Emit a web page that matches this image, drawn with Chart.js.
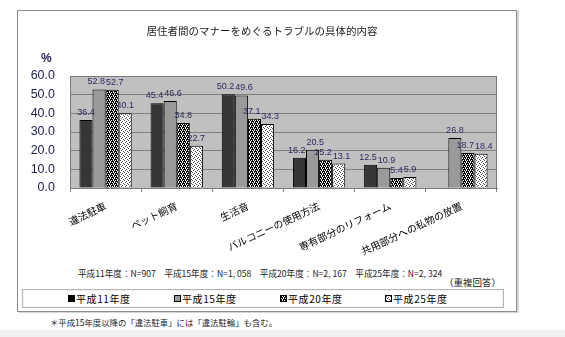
<!DOCTYPE html>
<html lang="ja">
<head>
<meta charset="utf-8">
<script src="https://cdn.jsdelivr.net/npm/chart.js@4"></script>
<style>
  html, body { margin: 0; padding: 0; }
  body {
    width: 565px; height: 337px; position: relative; overflow: hidden; background: #fff;
    font-family: "Noto Sans CJK JP", "Liberation Sans", sans-serif; color: #000;
  }
  #frame { position: absolute; left: 17px; top: 10px; width: 498px; height: 300px;
           border: 1px solid #8c8c8c; box-shadow: 2px 1px 0 #d6d6d6; }
  #chart { position: absolute; left: 0; top: 0; }
  .txt { position: absolute; white-space: pre; line-height: 1; }
  #title { left: 0; width: 524px; top: 26px; text-align: center; font-size: 10.5px; color: #222; }
  #pct { left: 41px; top: 52px; font-size: 12px; font-weight: bold; color: #1e1e50;
         font-family: "Liberation Sans", sans-serif; }
  #nline { left: 78px; top: 269px; font-size: 8.6px; color: #222; }
  #multi { left: 444px; top: 278px; font-size: 9.5px; color: #222; }
  #legend { position: absolute; left: 22px; top: 289px; width: 480px; height: 17px;
            border: 1px solid #b4b4b4; box-shadow: inset 0 0 0 1px #f4f4f4; }
  .item { position: absolute; top: 3px; font-size: 10px; letter-spacing: 0.6px; line-height: 11px; }
  .icon { display: inline-block; width: 5px; height: 5px; border: 1px solid #000;
          margin-right: 1px; vertical-align: 1px; }
  #note { left: 50px; top: 318px; font-size: 8.4px; color: #222; }
  #band { position: absolute; left: 0; top: 330px; width: 565px; height: 7px; background: #f1f1f1; }
</style>
</head>
<body>
<div id="frame"></div>
<canvas id="chart" width="565" height="262"></canvas>
<div class="txt" id="title">居住者間のマナーをめぐるトラブルの具体的内容</div>
<div class="txt" id="pct">%</div>
<div class="txt" id="nline">平成11年度：N=907　平成15年度：N=1, 058　平成20年度：N=2, 167　平成25年度：N=2, 324</div>
<div class="txt" id="multi">（重複回答）</div>
<div id="legend"></div>
<div class="txt" id="note">＊平成15年度以降の「違法駐車」には「違法駐輪」も含む。</div>
<div id="band"></div>

<script>
// カテゴリと年度ごとの割合（%）
const categories = ["違法駐車", "ペット飼育", "生活音", "バルコニーの使用方法", "専有部分のリフォーム", "共用部分への私物の放置"];
const seriesNames = ["平成11年度", "平成15年度", "平成20年度", "平成25年度"];
const h11 = [36.4, 45.4, 50.2, 16.2, 12.5, null];
const h15 = [52.8, 46.6, 49.6, 20.5, 10.9, 26.8];
const h20 = [52.7, 34.8, 37.1, 15.2, 5.4, 18.7];
const h25 = [40.1, 22.7, 34.3, 13.1, 5.9, 18.4];
const yTicks = [0, 10, 20, 30, 40, 50, 60];

// 4x4 の網掛けパターン（x = 前景）
function makePattern(rows, fg, bg) {
  const c = document.createElement("canvas");
  c.width = 4; c.height = 4;
  const g = c.getContext("2d");
  g.fillStyle = bg; g.fillRect(0, 0, 4, 4);
  g.fillStyle = fg;
  rows.forEach((r, y) => [...r].forEach((ch, x) => { if (ch === "x") g.fillRect(x, y, 1, 1); }));
  return c;
}
const darkHatch = makePattern(["x.x.", "xx.x", ".x.x", "x.xx"], "#000", "#fff");
const lightDots = makePattern(["x...", "..x.", ".x..", "...x"], "#555", "#fff");
const ctx = document.getElementById("chart").getContext("2d");

const fills = [
  "#363636",
  "#9a9a9a",
  ctx.createPattern(darkHatch, "repeat"),
  ctx.createPattern(lightDots, "repeat")
];
const iconBg = ["#000", "#9a9a9a", "url(" + darkHatch.toDataURL() + ")", "url(" + lightDots.toDataURL() + ")"];

// 凡例
const legendX = [45, 151, 257, 362];
const legend = document.getElementById("legend");
seriesNames.forEach((name, i) => {
  const it = document.createElement("div");
  it.className = "item";
  it.style.left = legendX[i] + "px";
  it.innerHTML = '<span class="icon"></span>' + name;
  it.querySelector(".icon").style.background = iconBg[i];
  legend.appendChild(it);
});

// プロット領域の背景と枠
const plotArea = {
  id: "plotArea",
  beforeDraw(chart) {
    const a = chart.chartArea, c = chart.ctx;
    c.save();
    c.fillStyle = "#c0c0c0";
    c.fillRect(a.left, a.top, a.right - a.left, a.bottom - a.top);
    c.restore();
  },
  afterDraw(chart) {
    const a = chart.chartArea, c = chart.ctx;
    c.save();
    c.strokeStyle = "#7a7a7a";
    c.lineWidth = 1;
    c.strokeRect(a.left + 0.5, a.top + 0.5, a.right - a.left - 1, a.bottom - a.top);
    c.restore();
  }
};

// 棒の上の数値（隣どうしが重なるときは左右に離す）
const valueLabels = {
  id: "valueLabels",
  afterDatasetsDraw(chart) {
    const c = chart.ctx;
    c.save();
    c.font = '9px "Liberation Sans", sans-serif';
    c.fillStyle = "#2a2a5e";
    c.textAlign = "center";
    c.textBaseline = "bottom";
    const n = chart.data.labels.length;
    for (let j = 0; j < n; j++) {
      const items = [];
      chart.data.datasets.forEach((ds, i) => {
        const v = ds.data[j];
        if (v == null) return;
        const bar = chart.getDatasetMeta(i).data[j];
        const text = v.toFixed(1);
        items.push({ text, x: bar.x, y: bar.y - 3, w: c.measureText(text).width });
      });
      for (let k = 1; k < items.length; k++) {
        const a = items[k - 1], b = items[k];
        const gap = (b.x - b.w / 2) - (a.x + a.w / 2);
        if (gap < 1 && Math.abs(a.y - b.y) < 9) {
          const d = (1 - gap) / 2;
          a.x -= d; b.x += d;
        }
      }
      items.forEach(it => c.fillText(it.text, it.x, it.y));
    }
    c.restore();
  }
};

new Chart(ctx, {
  type: "bar",
  data: {
    labels: categories,
    datasets: [h11, h15, h20, h25].map((d, i) => ({
      label: seriesNames[i],
      data: d,
      backgroundColor: fills[i],
      borderColor: "#000",
      borderWidth: 1,
      categoryPercentage: 0.735,
      barPercentage: 1.0
    }))
  },
  options: {
    responsive: false,
    animation: false,
    layout: { padding: { top: 76, right: 68, left: 0, bottom: 0 } },
    plugins: { legend: { display: false }, tooltip: { enabled: false } },
    scales: {
      x: {
        grid: { display: true, drawOnChartArea: false, offset: true, tickLength: 4, color: "#808080" },
        border: { display: true, color: "#7a7a7a" },
        ticks: {
          autoSkip: false, minRotation: 25, maxRotation: 25, padding: 8, color: "#000",
          font: { size: 10, family: '"Noto Sans CJK JP", sans-serif' }
        },
        afterFit: s => { s.height = 262 - 188; }
      },
      y: {
        min: 0, max: 60,
        afterBuildTicks: s => { s.ticks = yTicks.map(v => ({ value: v })); },
        grid: { color: "#808080", drawTicks: false },
        border: { display: false },
        ticks: {
          padding: 15, color: "#1e1e50",
          font: { size: 12.5, family: '"Liberation Sans", sans-serif' },
          callback: v => v.toFixed(1)
        },
        afterFit: s => { s.width = 70; }
      }
    }
  },
  plugins: [plotArea, valueLabels]
});
</script>
</body>
</html>
